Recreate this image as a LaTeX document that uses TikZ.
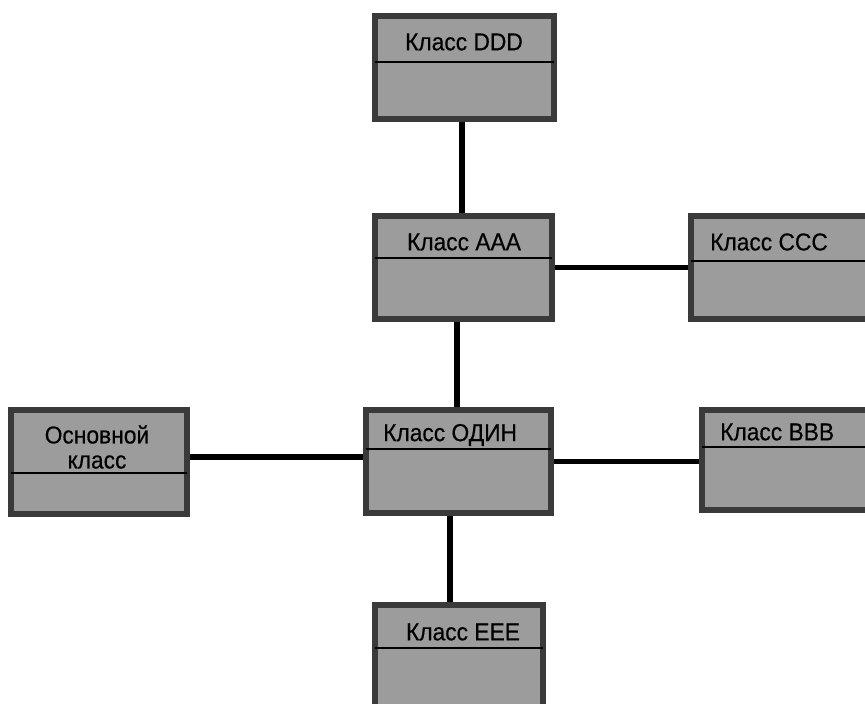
\documentclass[tikz,border=0pt]{standalone}
\usepackage{fontspec}
\setmainfont{Liberation Sans}[FakeStretch=0.93, FakeBold=0.4]
\usetikzlibrary{backgrounds}

\definecolor{boxfill}{RGB}{156,156,156}
\definecolor{boxline}{RGB}{58,58,58}

\tikzset{
  classbox/.style={draw=boxline, fill=boxfill, line width=6pt, rectangle,
    inner sep=0pt, outer sep=0pt},
  divider/.style={black, line width=2.5pt},
  link/.style={black, line width=5.5pt},
  title/.style={inner sep=0pt, font=\fontsize{24.5}{27}\selectfont}
}

\begin{document}
\begin{tikzpicture}[x=1pt,y=-1pt]
        \useasboundingbox (0,0) rectangle (865,704);
        % class boxes
        \node [classbox, minimum width=179pt, minimum height=103pt] (ddd) at (464.5,67.5) {};
        \node [classbox, minimum width=177pt, minimum height=103pt] (aaa) at (463.5,267.5) {};
        \node [classbox, minimum width=189pt, minimum height=103pt] (ccc) at (785.5,267.5) {};
        \node [classbox, minimum width=176pt, minimum height=104pt] (base) at (99,462) {};
        \node [classbox, minimum width=185pt, minimum height=103pt] (odin) at (458.5,461.5) {};
        \node [classbox, minimum width=178pt, minimum height=100pt] (bbb) at (791,460) {};
        \node [classbox, minimum width=168pt, minimum height=115pt] (eee) at (459,662.5) {};
        % dividers
        \draw [divider] ([yshift=-46pt]ddd.north west) -- ([yshift=-46pt]ddd.north east);
        \draw [divider] ([yshift=-42pt]aaa.north west) -- ([yshift=-42pt]aaa.north east);
        \draw [divider] ([yshift=-45pt]ccc.north west) -- ([yshift=-45pt]ccc.north east);
        \draw [divider] ([yshift=-63pt]base.north west) -- ([yshift=-63pt]base.north east);
        \draw [divider] ([yshift=-39pt]odin.north west) -- ([yshift=-39pt]odin.north east);
        \draw [divider] ([yshift=-37pt]bbb.north west) -- ([yshift=-37pt]bbb.north east);
        \draw [divider] ([yshift=-43pt]eee.north west) -- ([yshift=-43pt]eee.north east);
        % titles
        \node [title] (tddd) at (464,42) {Класс DDD};
        \node [title] (taaa) at (464,242) {Класс AAA};
        \node [title, anchor=west] (tccc) at (710,242) {Класс CCC};
        \node [title, align=center, font=\fontsize{24.5}{25}\selectfont] (tbase) at (97,447) {Основной\\класс};
        \node [title, anchor=west] (todin) at (383,435) {Класс ОДИН};
        \node [title, anchor=west] (tbbb) at (720,432) {Класс BBB};
        \node [title] (teee) at (463,632) {Класс EEE};
        % links
        \begin{scope}[on background layer]
        \draw [link] ([xshift=-2.5pt]ddd.south) -- ([xshift=-2.5pt]ddd.south |- aaa.north);
        \draw [link] ([xshift=-6.5pt]aaa.south) -- ([xshift=-6.5pt]aaa.south |- odin.north);
        \draw [link] (aaa.east) -- (aaa.east -| ccc.west);
        \draw [link] ([yshift=5pt]base.east) -- ([yshift=5pt]base.east -| odin.west);
        \draw [link] (odin.east) -- (odin.east -| bbb.west);
        \draw [link] ([xshift=-8.5pt]odin.south) -- ([xshift=-8.5pt]odin.south |- eee.north);
        \end{scope}
\end{tikzpicture}
\end{document}
